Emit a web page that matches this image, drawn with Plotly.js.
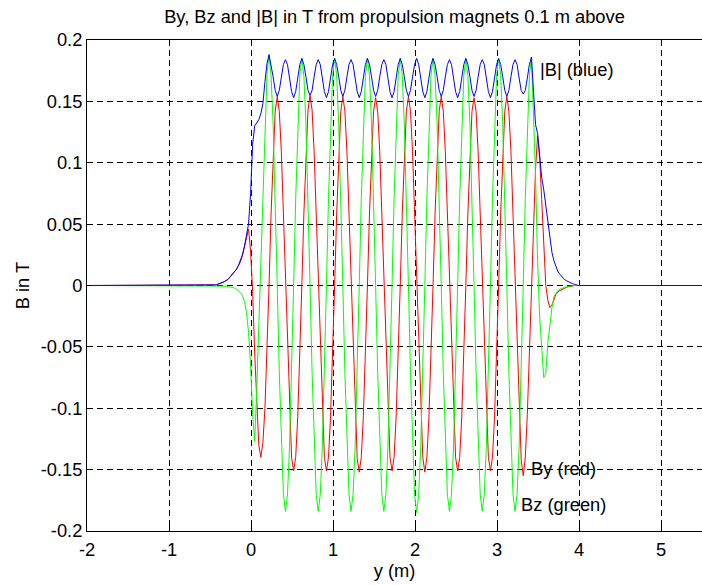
<!DOCTYPE html>
<html>
<head>
<meta charset="utf-8">
<script src="https://cdn.plot.ly/plotly-3.0.1.min.js"></script>
<style>
html, body { margin: 0; padding: 0; background: #ffffff; }
#chart { width: 702px; height: 585px; }
</style>
</head>
<body>
<div id="chart"></div>
<script>
// Sample positions y (m)
var yPos = [-2,
  -0.48, -0.455, -0.43, -0.405, -0.38, -0.355, -0.33, -0.305, -0.28, -0.255,
  -0.23, -0.205, -0.18, -0.155, -0.13, -0.105, -0.08, -0.055, -0.03, -0.005,
  0.02, 0.045, 0.07, 0.095, 0.12, 0.145, 0.17, 0.195,
  0.22, 0.245, 0.27, 0.295, 0.32, 0.345, 0.37, 0.395, 0.42, 0.445, 0.47, 0.495, 0.52, 0.545, 0.57, 0.595,
  0.62, 0.645, 0.67, 0.695, 0.72, 0.745, 0.77, 0.795, 0.82, 0.845, 0.87, 0.895, 0.92, 0.945, 0.97, 0.995,
  1.02, 1.045, 1.07, 1.095, 1.12, 1.145, 1.17, 1.195, 1.22, 1.245, 1.27, 1.295, 1.32, 1.345, 1.37, 1.395,
  1.42, 1.445, 1.47, 1.495, 1.52, 1.545, 1.57, 1.595, 1.62, 1.645, 1.67, 1.695, 1.72, 1.745, 1.77, 1.795,
  1.82, 1.845, 1.87, 1.895, 1.92, 1.945, 1.97, 1.995, 2.02, 2.045, 2.07, 2.095, 2.12, 2.145, 2.17, 2.195,
  2.22, 2.245, 2.27, 2.295, 2.32, 2.345, 2.37, 2.395, 2.42, 2.445, 2.47, 2.495, 2.52, 2.545, 2.57, 2.595,
  2.62, 2.645, 2.67, 2.695, 2.72, 2.745, 2.77, 2.795, 2.82, 2.845, 2.87, 2.895, 2.92, 2.945, 2.97, 2.995,
  3.02, 3.045, 3.07, 3.095, 3.12, 3.145, 3.17, 3.195, 3.22, 3.245, 3.27, 3.295, 3.32, 3.345, 3.37, 3.395,
  3.42, 3.445, 3.47, 3.495, 3.52, 3.545, 3.57, 3.595, 3.62, 3.645, 3.67, 3.695,
  3.72, 3.745, 3.77, 3.795, 3.82, 3.845, 3.87, 3.895, 3.92, 3.945, 3.97, 3.995,
  5.5];

// By in T (red)
var byRed = [0,
  0, 0.0003, 0.0005, 0.001, 0.0015, 0.002, 0.003, 0.004, 0.005, 0.007,
  0.009, 0.011, 0.013, 0.016, 0.019, 0.024, 0.031, 0.039, 0.046, 0.028,
  -0.005, -0.055, -0.100, -0.130, -0.140, -0.128, -0.100, -0.055,
  0, 0.059, 0.109, 0.142, 0.154, 0.142, 0.109, 0.059, 0, -0.058, -0.107, -0.140, -0.151, -0.140, -0.107, -0.058,
  0, 0.059, 0.110, 0.143, 0.155, 0.143, 0.109, 0.059, 0, -0.058, -0.107, -0.140, -0.151, -0.140, -0.107, -0.058,
  0, 0.059, 0.109, 0.142, 0.154, 0.142, 0.109, 0.059, 0, -0.058, -0.108, -0.141, -0.152, -0.140, -0.107, -0.058,
  0, 0.059, 0.109, 0.142, 0.153, 0.142, 0.109, 0.059, 0, -0.058, -0.107, -0.140, -0.151, -0.140, -0.107, -0.058,
  0, 0.059, 0.109, 0.142, 0.154, 0.142, 0.109, 0.059, 0, -0.058, -0.107, -0.140, -0.152, -0.140, -0.107, -0.058,
  0, 0.059, 0.109, 0.142, 0.154, 0.142, 0.109, 0.059, 0, -0.058, -0.107, -0.140, -0.151, -0.140, -0.107, -0.058,
  0, 0.059, 0.109, 0.142, 0.153, 0.142, 0.109, 0.059, 0, -0.058, -0.107, -0.140, -0.151, -0.140, -0.107, -0.058,
  0, 0.059, 0.109, 0.142, 0.154, 0.142, 0.109, 0.059, 0, -0.058, -0.108, -0.142, -0.155, -0.140, -0.105, -0.055,
  -0.005, 0.050, 0.095, 0.122, 0.105, 0.070, 0.030, 0.000, -0.012, -0.018, -0.016, -0.011,
  -0.007, -0.005, -0.004, -0.003, -0.002, -0.0015, -0.001, -0.001, -0.0005, 0, 0, 0,
  0];

// Bz in T (green)
var bzGreen = [0,
  0, 0, 0, 0, 0, 0, 0, -0.0005, -0.001, -0.001,
  -0.0015, -0.002, -0.003, -0.004, -0.006, -0.008, -0.013, -0.022, -0.038, -0.065,
  -0.105, -0.127, -0.085, -0.030, 0.015, 0.075, 0.132, 0.172,
  0.188, 0.171, 0.131, 0.071, 0, -0.071, -0.131, -0.170, -0.184, -0.170, -0.131, -0.071, 0, 0.071, 0.131, 0.171,
  0.185, 0.171, 0.131, 0.071, 0, -0.071, -0.131, -0.170, -0.184, -0.170, -0.131, -0.071, 0, 0.071, 0.131, 0.171,
  0.185, 0.171, 0.131, 0.071, 0, -0.071, -0.131, -0.170, -0.184, -0.170, -0.131, -0.071, 0, 0.071, 0.131, 0.171,
  0.185, 0.171, 0.131, 0.071, 0, -0.071, -0.131, -0.170, -0.184, -0.170, -0.131, -0.071, 0, 0.071, 0.131, 0.171,
  0.185, 0.171, 0.131, 0.071, 0, -0.071, -0.131, -0.170, -0.185, -0.170, -0.131, -0.071, 0, 0.071, 0.131, 0.171,
  0.185, 0.171, 0.131, 0.071, 0, -0.071, -0.131, -0.170, -0.184, -0.170, -0.131, -0.071, 0, 0.071, 0.131, 0.171,
  0.185, 0.171, 0.131, 0.071, 0, -0.071, -0.131, -0.170, -0.184, -0.170, -0.131, -0.071, 0, 0.071, 0.131, 0.171,
  0.185, 0.171, 0.131, 0.071, 0, -0.071, -0.131, -0.170, -0.184, -0.170, -0.131, -0.071, 0, 0.071, 0.131, 0.171,
  0.186, 0.145, 0.090, 0.020, -0.025, -0.050, -0.075, -0.072, -0.047, -0.033, -0.018, -0.009,
  -0.006, -0.004, -0.003, -0.002, -0.0015, -0.001, -0.001, -0.0005, 0, 0, 0, 0,
  0];

// |B| in T (blue)
var bAbsBlue = [0,
  0, 0.0003, 0.0005, 0.001, 0.0015, 0.002, 0.003, 0.004, 0.005, 0.007,
  0.009, 0.011, 0.013, 0.016, 0.020, 0.025, 0.032, 0.041, 0.050, 0.075,
  0.115, 0.130, 0.133, 0.135, 0.140, 0.148, 0.166, 0.181,
  0.188, 0.180, 0.170, 0.159, 0.154, 0.159, 0.170, 0.180, 0.184, 0.180, 0.169, 0.158, 0.153, 0.158, 0.169, 0.180,
  0.185, 0.180, 0.170, 0.159, 0.155, 0.159, 0.170, 0.180, 0.184, 0.180, 0.169, 0.158, 0.153, 0.158, 0.169, 0.180,
  0.185, 0.180, 0.170, 0.159, 0.154, 0.159, 0.170, 0.180, 0.184, 0.180, 0.169, 0.158, 0.153, 0.158, 0.169, 0.180,
  0.185, 0.180, 0.170, 0.159, 0.154, 0.159, 0.170, 0.180, 0.184, 0.180, 0.169, 0.158, 0.153, 0.158, 0.169, 0.180,
  0.185, 0.180, 0.170, 0.159, 0.154, 0.159, 0.170, 0.180, 0.185, 0.180, 0.169, 0.158, 0.153, 0.158, 0.169, 0.180,
  0.185, 0.180, 0.170, 0.159, 0.154, 0.159, 0.170, 0.180, 0.184, 0.180, 0.169, 0.158, 0.153, 0.158, 0.169, 0.180,
  0.185, 0.180, 0.170, 0.159, 0.154, 0.159, 0.170, 0.180, 0.184, 0.180, 0.169, 0.158, 0.153, 0.158, 0.169, 0.180,
  0.185, 0.180, 0.170, 0.159, 0.154, 0.159, 0.170, 0.180, 0.184, 0.180, 0.169, 0.159, 0.156, 0.159, 0.169, 0.180,
  0.186, 0.153, 0.131, 0.124, 0.108, 0.088, 0.078, 0.065, 0.050, 0.037, 0.027, 0.020,
  0.015, 0.011, 0.009, 0.007, 0.005, 0.004, 0.003, 0.002, 0.0015, 0.001, 0.0005, 0,
  0];

var xTickVals = [-2, -1, 0, 1, 2, 3, 4, 5];
var xTickText = ["-2", "-1", "0", "1", "2", "3", "4", "5"];
var yTickVals = [-0.2, -0.15, -0.1, -0.05, 0, 0.05, 0.1, 0.15, 0.2];
var yTickText = ["-0.2", "-0.15", "-0.1", "-0.05", "0", "0.05", "0.1", "0.15", "0.2"];

var labelText = ["|B| (blue)", "By (red)", "Bz (green)"];
var labelX = [3.5, 3.39, 3.265];
var labelY = [0.176, -0.149, -0.178];

var FONT = "Liberation Sans, Arial, Helvetica, sans-serif";
var FS = 18.3;

var traces = [
  { x: yPos, y: byRed, type: "scatter", mode: "lines", name: "By",
    line: { color: "#ff0000", width: 1 } },
  { x: yPos, y: bzGreen, type: "scatter", mode: "lines", name: "Bz",
    line: { color: "#00ff00", width: 1 } },
  { x: yPos, y: bAbsBlue, type: "scatter", mode: "lines", name: "|B|",
    line: { color: "#0000ff", width: 1 } }
];

var annotations = labelText.map(function (t, i) {
  return { x: labelX[i], y: labelY[i], xref: "x", yref: "y", text: t,
    showarrow: false, xanchor: "left", yanchor: "middle",
    font: { family: FONT, size: FS, color: "#000000" } };
});

var layout = {
  width: 702, height: 585,
  margin: { l: 87, r: 0, t: 40, b: 54, pad: 0 },
  paper_bgcolor: "#ffffff", plot_bgcolor: "#ffffff",
  showlegend: false,
  font: { family: FONT, size: FS, color: "#000000" },
  title: { text: "By, Bz and |B| in T from propulsion magnets 0.1 m above",
    x: 0.5, xref: "paper", xanchor: "center",
    y: 1 - 17 / 585, yref: "container", yanchor: "middle",
    font: { family: FONT, size: FS, color: "#000000" } },
  xaxis: {
    range: [-2, 5.5], tickmode: "array", tickvals: xTickVals, ticktext: xTickText,
    ticks: "inside", ticklen: 5, tickwidth: 1, tickcolor: "#000000",
    showline: true, linecolor: "#000000", linewidth: 1, mirror: "ticks",
    showgrid: true, gridcolor: "#000000", gridwidth: 1, griddash: "6px,4px",
    zeroline: false, ticklabelstandoff: 2,
    tickfont: { family: FONT, size: FS, color: "#000000" },
    title: { text: "y (m)", standoff: 2, font: { family: FONT, size: FS, color: "#000000" } }
  },
  yaxis: {
    range: [-0.2, 0.2], tickmode: "array", tickvals: yTickVals, ticktext: yTickText,
    ticks: "inside", ticklen: 5, tickwidth: 1, tickcolor: "#000000",
    showline: true, linecolor: "#000000", linewidth: 1, mirror: false,
    showgrid: true, gridcolor: "#000000", gridwidth: 1, griddash: "6px,4px",
    zeroline: false, ticklabelstandoff: 0,
    tickfont: { family: FONT, size: FS, color: "#000000" },
    title: { text: "B in T", standoff: 6, font: { family: FONT, size: FS, color: "#000000" } }
  },
  annotations: annotations
};

Plotly.newPlot("chart", traces, layout, { staticPlot: true, displayModeBar: false });
</script>
</body>
</html>
